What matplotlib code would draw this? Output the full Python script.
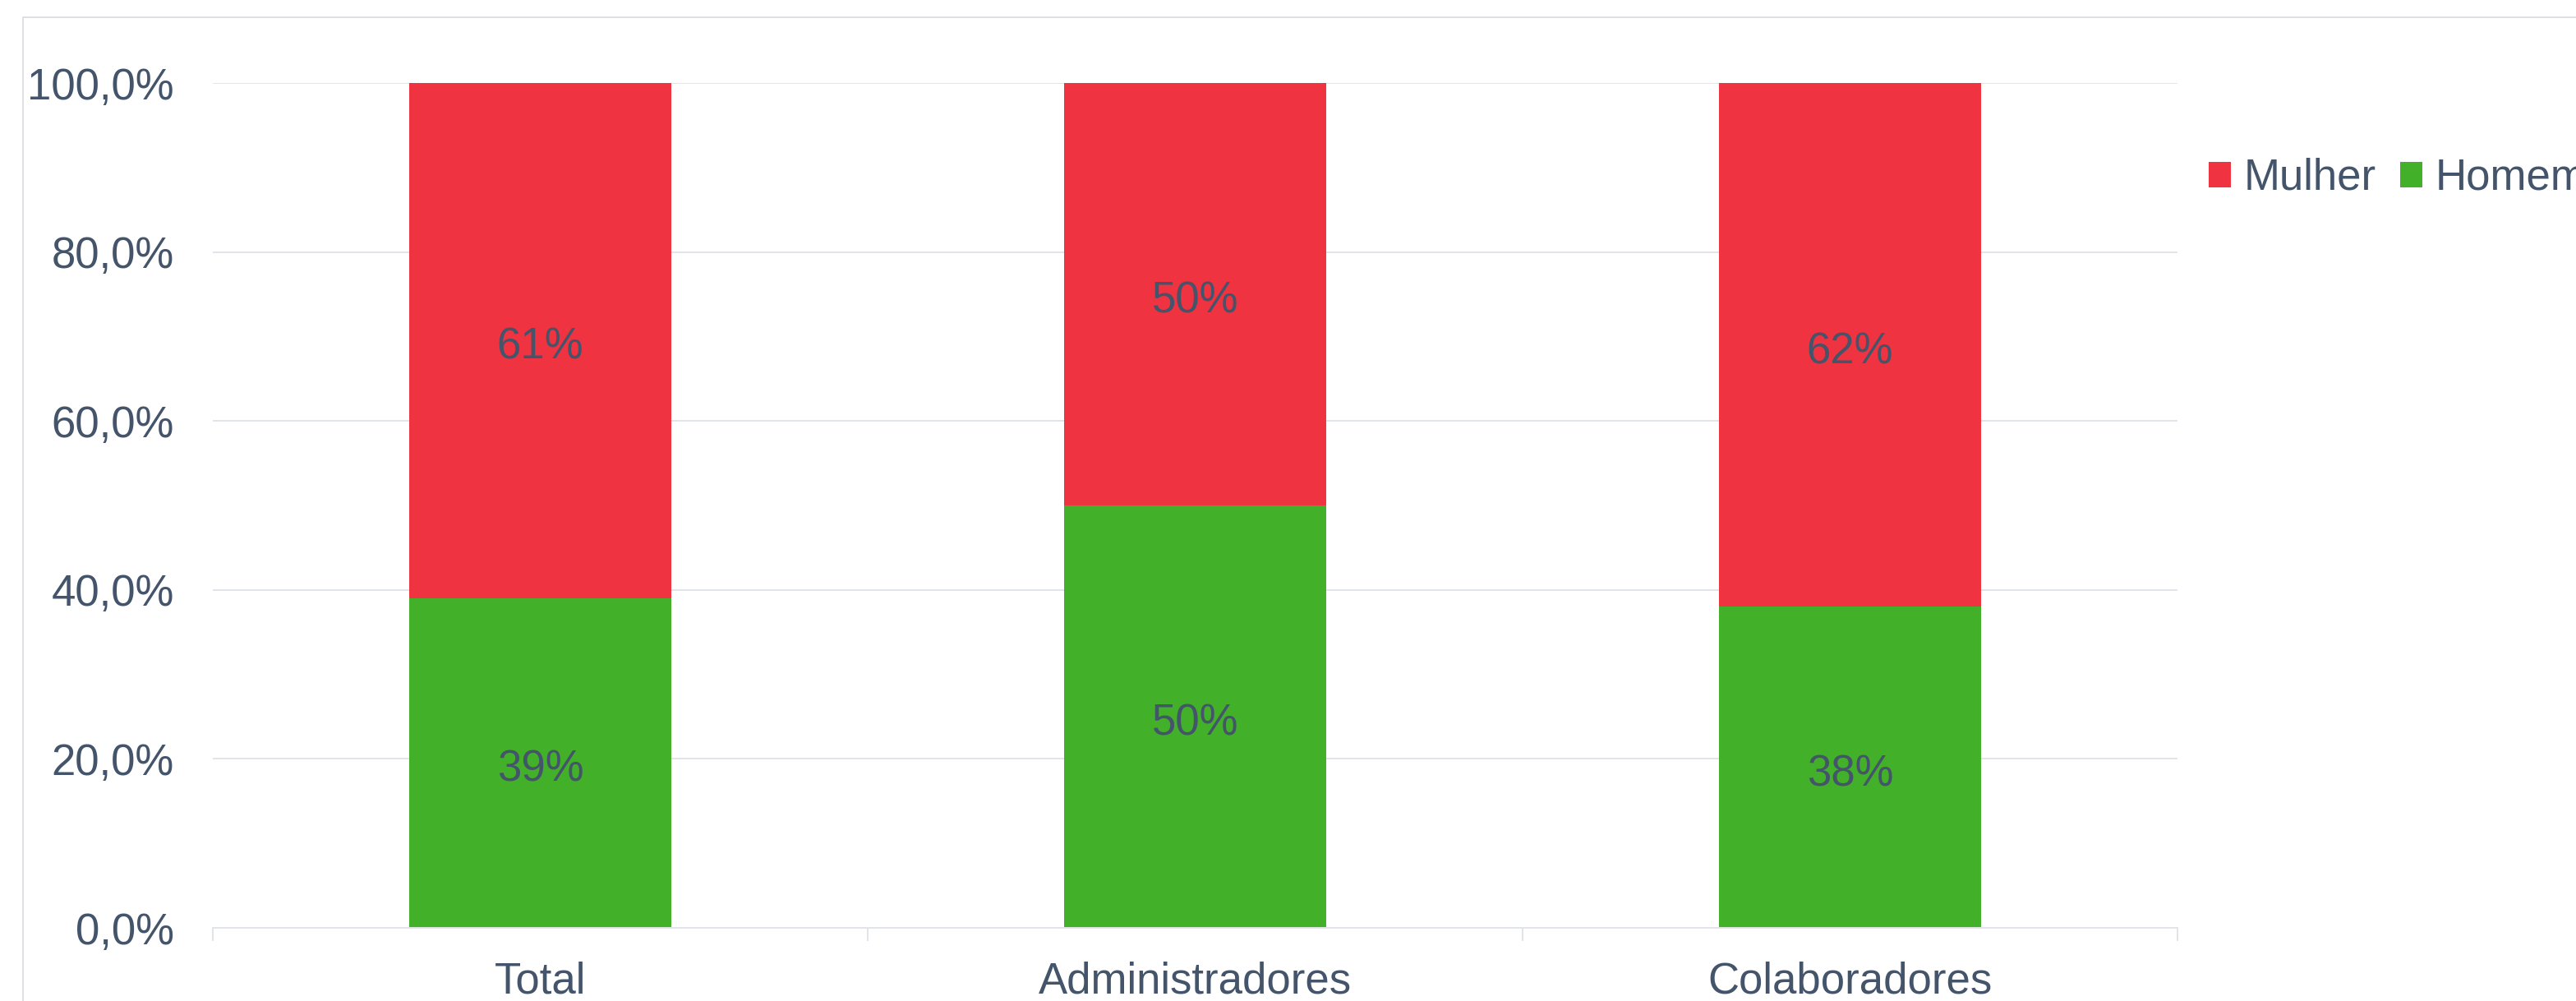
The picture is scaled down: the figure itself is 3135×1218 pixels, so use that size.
import matplotlib
matplotlib.use("Agg")
import matplotlib.pyplot as plt
from matplotlib.patches import Patch
from matplotlib.lines import Line2D
from matplotlib.ticker import FuncFormatter, FixedLocator

categories = ["Total", "Administradores", "Colaboradores"]
homem = [0.39, 0.50, 0.38]
mulher = [0.61, 0.50, 0.62]

TXT = "#44546a"
GRID = "#e1e5ea"
RED = "#ef3340"
GREEN = "#43b02a"
FS = 38

plt.rcParams["font.family"] = ["Liberation Sans", "DejaVu Sans"]

fig = plt.figure(figsize=(31.35, 12.18), dpi=100)
ax = fig.add_axes([259 / 3135, 89 / 1218, (2650 - 259) / 3135, (1129 - 101) / 1218])

x = list(range(len(categories)))
ax.bar(x, homem, width=0.4, color=GREEN, zorder=3, label="Homem")
ax.bar(x, mulher, width=0.4, bottom=homem, color=RED, zorder=3, label="Mulher")

# data labels, centred in each segment
for i in x:
    for bottom, h in [(0, homem[i]), (homem[i], mulher[i])]:
        ax.annotate(f"{h * 100:.0f}%", (i, bottom + h / 2), xytext=(0, -6),
                    textcoords="offset points", ha="center", va="center",
                    fontsize=FS, color=TXT, zorder=5)

ax.set_xlim(-0.5, 2.5)
ax.set_ylim(0, 1)
ax.set_yticks([0, 0.2, 0.4, 0.6, 0.8, 1.0])
ax.yaxis.set_major_formatter(FuncFormatter(lambda v, p: f"{v * 100:.1f}%".replace(".", ",")))
ax.set_xticks(x)
ax.set_xticklabels(categories)
ax.xaxis.set_minor_locator(FixedLocator([-0.5, 0.5, 1.5, 2.5]))

ax.tick_params(axis="y", length=0, pad=34, labelsize=FS, labelcolor=TXT)
ax.tick_params(axis="x", which="major", length=0, pad=29, labelsize=FS, labelcolor=TXT)
ax.tick_params(axis="x", which="minor", length=11.5, width=1.4, color=GRID)

ax.grid(axis="y", color=GRID, linewidth=1.4, zorder=0)
for s in ["top", "right", "left"]:
    ax.spines[s].set_visible(False)
ax.spines["bottom"].set_color(GRID)
ax.spines["bottom"].set_linewidth(1.4)
ax.spines["bottom"].set_zorder(4)

handles = [Patch(facecolor=RED, label="Mulher"), Patch(facecolor=GREEN, label="Homem")]
fig.legend(handles=handles, loc="center left", bbox_to_anchor=(2688 / 3135, 1 - 217 / 1218),
           ncol=2, frameon=False, fontsize=FS, labelcolor=TXT, handlelength=0.52,
           handleheight=0.52, handletextpad=0.28, columnspacing=0.56, borderpad=0,
           borderaxespad=0)

# outer chart border
bx, by = 28 / 3135, 1 - 21 / 1218
fig.add_artist(Line2D([bx, bx], [0, by], color="#dde1e6", linewidth=1.4, transform=fig.transFigure))
fig.add_artist(Line2D([bx, 1], [by, by], color="#dde1e6", linewidth=1.4, transform=fig.transFigure))

fig.savefig("out.png", dpi=100)
